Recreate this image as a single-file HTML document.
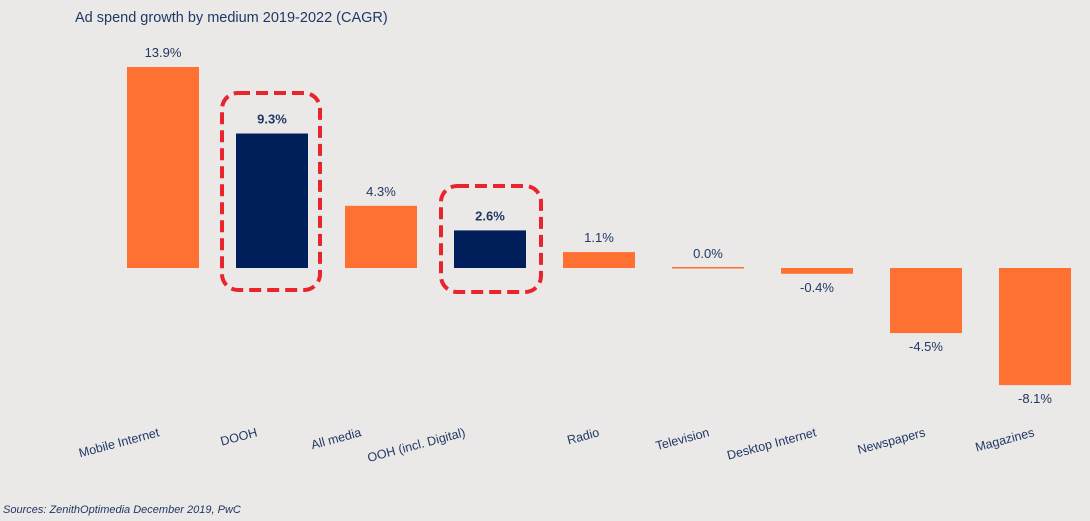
<!DOCTYPE html>
<html><head><meta charset="utf-8"><style>
body{margin:0;background:#ebe9e7;}
svg{display:block;font-family:"Liberation Sans",Calibri,sans-serif;}
</style></head><body>
<svg id="chart" width="1090" height="521" xmlns="http://www.w3.org/2000/svg">
<rect width="1090" height="521" fill="#ebe9e7"/>
<text x="75" y="22" font-size="14.5" fill="#1f3864">Ad spend growth by medium 2019-2022  (CAGR)</text>
<text x="3" y="513" font-size="11" font-style="italic" fill="#1f3864">Sources: ZenithOptimedia  December 2019, PwC</text>
<g id="bars"></g>
<rect x="222" y="93" width="98" height="197" rx="16" fill="none" stroke="#e8242c" stroke-width="4" stroke-dasharray="12 6"/>
<rect x="441" y="186" width="100" height="106" rx="16" fill="none" stroke="#e8242c" stroke-width="4" stroke-dasharray="12 6"/>
</svg>
<script>
const categories=["Mobile Internet","DOOH","All media","OOH (incl. Digital)","Radio","Television","Desktop Internet","Newspapers","Magazines"];
const values=[13.9,9.3,4.3,2.6,1.1,0.0,-0.4,-4.5,-8.1];
const highlighted=[false,true,false,true,false,false,false,false,false];
const labelShift=[-3,-14,-19,-24,1,2,0,0,0];
const x0=163, step=109, barW=72, zeroY=268, pxPer=14.46;
const xAt=i=>x0+i*step;
const yAt=v=>zeroY-v*pxPer;
const g=document.getElementById('bars');
const NS="http://www.w3.org/2000/svg";
categories.forEach((c,i)=>{
  const v=values[i], cx=xAt(i);
  const r=document.createElementNS(NS,'rect');
  const y1=Math.min(yAt(v),zeroY), h=Math.max(Math.abs(yAt(v)-zeroY),1.5);
  r.setAttribute('x',cx-barW/2);r.setAttribute('y',v===0?zeroY-1:y1);
  r.setAttribute('width',barW);r.setAttribute('height',h);
  r.setAttribute('fill',highlighted[i]?'#001e5a':'#ff7033');
  
  
  g.appendChild(r);
  const t=document.createElementNS(NS,'text');
  t.setAttribute('x',cx);
  t.setAttribute('y',v>=0?yAt(v)-10:yAt(v)+18);
  t.setAttribute('text-anchor','middle');
  t.setAttribute('font-size','13');
  t.setAttribute('fill','#1f3864');
  if(highlighted[i])t.setAttribute('font-weight','bold');
  t.textContent=v.toFixed(1)+'%';
  
  
  g.appendChild(t);
  const l=document.createElementNS(NS,'text');
  const lx=cx+labelShift[i], ly=436;
  l.setAttribute('x',lx);l.setAttribute('y',ly);
  l.setAttribute('text-anchor','end');
  l.setAttribute('font-size','12.5');
  l.setAttribute('fill','#1f3864');
  l.setAttribute('transform','rotate(-15 '+lx+' '+ly+')');
  l.textContent=c;
  
  
  g.appendChild(l);
});
</script>
</body></html>
